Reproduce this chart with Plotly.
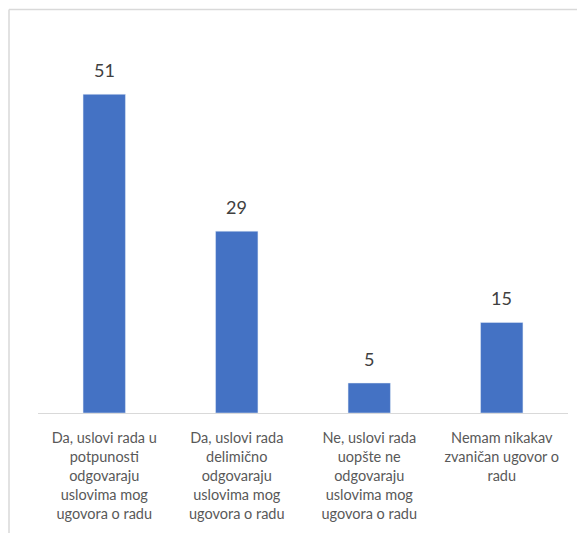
import plotly.graph_objects as go

categories = [
    "Da, uslovi rada u<br>potpunosti<br>odgovaraju<br>uslovima mog<br>ugovora o radu",
    "Da, uslovi rada<br>delimično<br>odgovaraju<br>uslovima mog<br>ugovora o radu",
    "Ne, uslovi rada<br>uopšte ne<br>odgovaraju<br>uslovima mog<br>ugovora o radu",
    "Nemam nikakav<br>zvaničan ugovor o<br>radu",
]
values = [51, 29.1, 4.8, 14.5]
value_labels = ["51", "29", "5", "15"]

ML, MR, MT, MB = 30, 25, 30, 128
W, H = 585, 533
PW, PH = W - ML - MR, H - MT - MB

fig = go.Figure(
    go.Bar(
        x=categories,
        y=values,
        marker_color="#4472C4",
        width=0.32,
    )
)

for c, v, t in zip(categories, values, value_labels):
    fig.add_annotation(
        x=c, y=v, text=t, showarrow=False,
        yanchor="bottom", yshift=11,
        font=dict(family="Lato", size=18, color="#404040"),
    )

fig.update_layout(
    width=W,
    height=H,
    margin=dict(l=ML, r=MR, t=MT, b=MB),
    paper_bgcolor="white",
    plot_bgcolor="white",
    showlegend=False,
    font=dict(family="Lato", color="#595959", size=14.5),
    xaxis=dict(
        showline=True,
        linecolor="#D9D9D9",
        linewidth=1,
        ticks="",
        tickangle=0,
        automargin=False,
        ticklabelstandoff=12,
        tickfont=dict(family="Lato", size=14.5, color="#595959"),
    ),
    yaxis=dict(
        range=[0, 60],
        visible=False,
        showgrid=False,
        zeroline=False,
        automargin=False,
    ),
)

# chart frame (left and top border)
x_left = -(ML - 1) / PW
y_top = 1 + (MT - 1.5) / PH
fig.add_shape(type="line", xref="paper", yref="paper",
              x0=x_left, x1=1 + MR / PW, y0=y_top, y1=y_top,
              line=dict(color="#D9D9D9", width=1.5))
fig.add_shape(type="line", xref="paper", yref="paper",
              x0=x_left, x1=x_left, y0=-MB / PH, y1=y_top,
              line=dict(color="#D9D9D9", width=1.5))

fig.write_html("out.html")
